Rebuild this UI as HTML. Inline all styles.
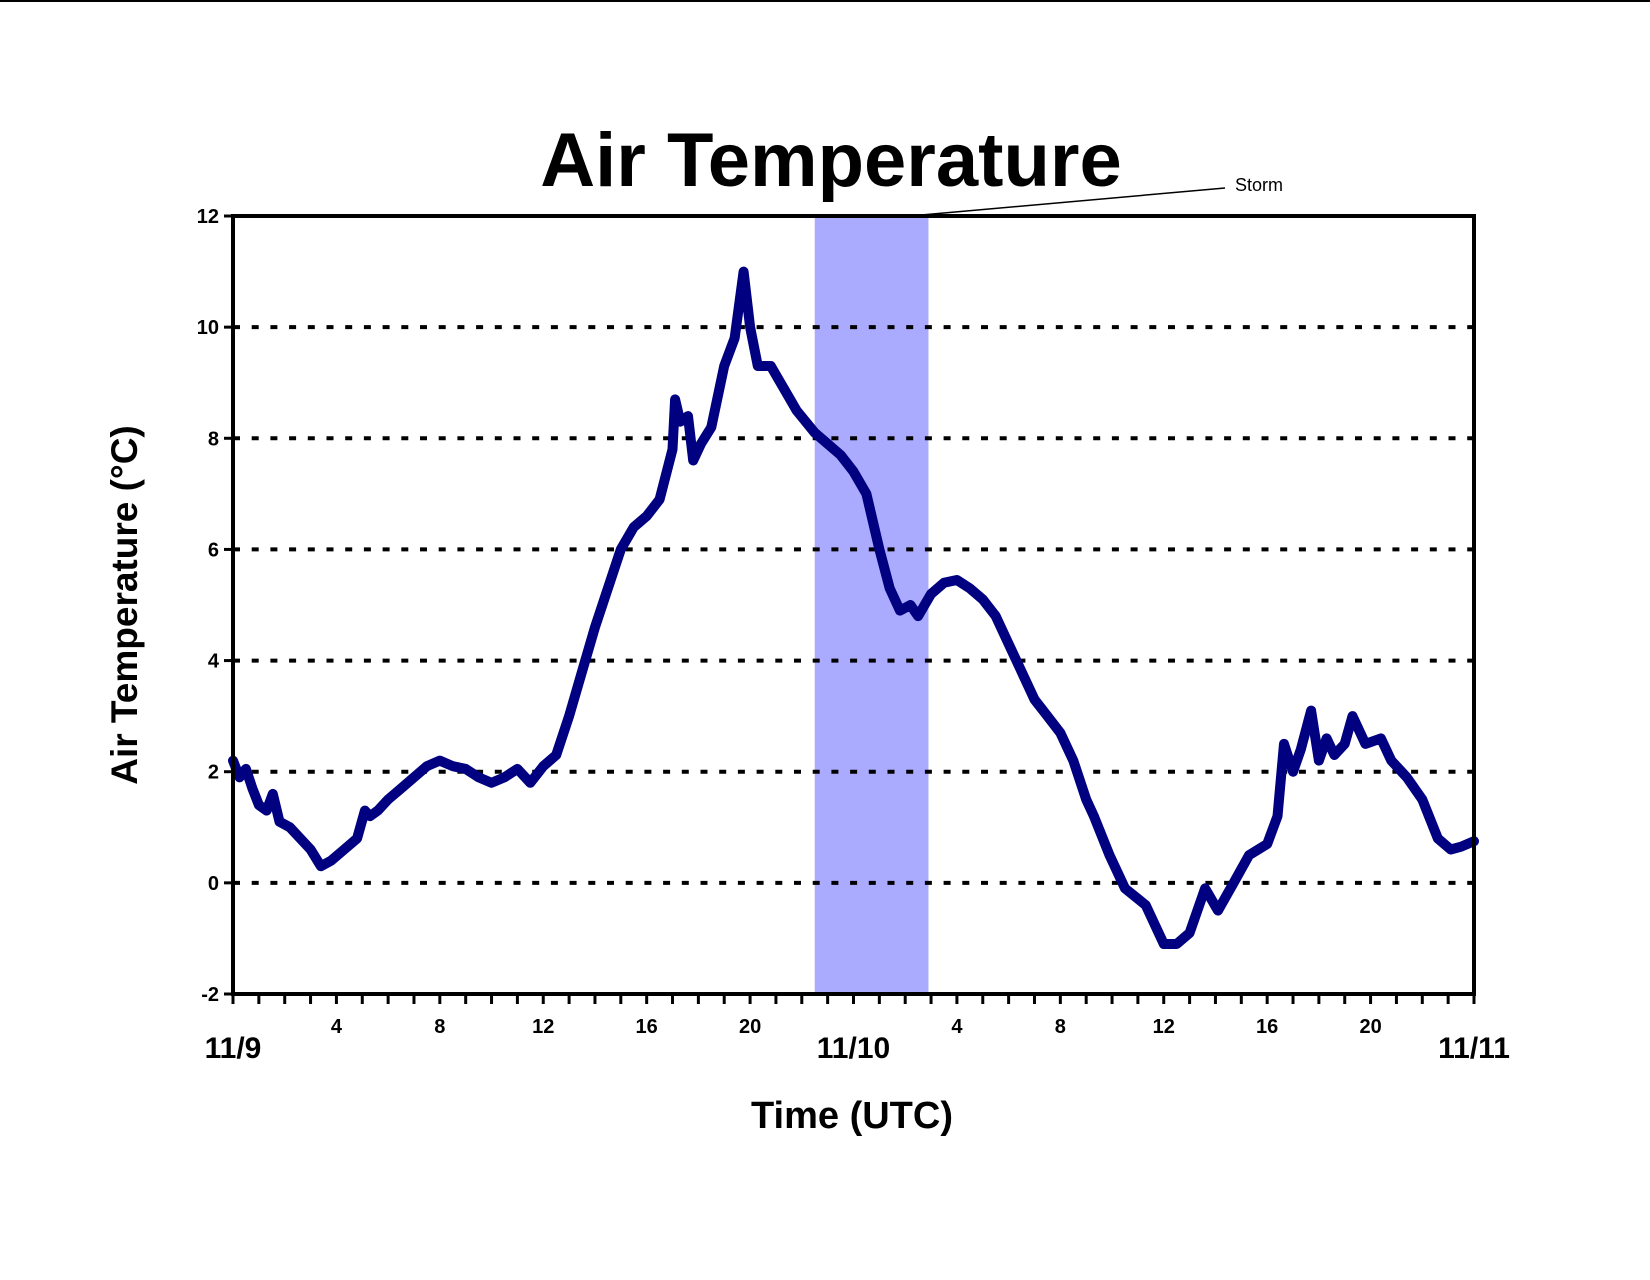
<!DOCTYPE html>
<html><head><meta charset="utf-8"><style>
body{margin:0;background:#fff;}
svg text{font-family:"Liberation Sans",Arial,sans-serif;font-weight:bold;fill:#000;}
</style></head><body>
<svg width="1650" height="1275" viewBox="0 0 1650 1275" xmlns="http://www.w3.org/2000/svg">
<line x1="0" y1="1" x2="1650" y2="1" stroke="#000" stroke-width="2"/>
<text x="831" y="186" font-size="76" text-anchor="middle">Air Temperature</text>
<g id="plot"></g>
<text x="1259" y="191" font-size="18" text-anchor="middle" style="font-weight:normal">Storm</text>
<text transform="translate(137,605) rotate(-90)" font-size="37" text-anchor="middle">Air Temperature (°C)</text>
<text x="852" y="1128" font-size="38" text-anchor="middle">Time (UTC)</text>
</svg>
<script>
const hours=[0,0.25,0.5,0.75,1,1.3,1.54,1.8,2.2,2.6,3,3.4,3.8,4.3,4.8,5.1,5.3,5.6,6,6.5,7,7.5,8,8.5,9,9.5,10,10.5,11,11.5,12,12.5,13,13.5,14,14.5,15,15.5,16,16.5,17,17.1,17.3,17.6,17.8,18.1,18.5,19,19.4,19.75,20,20.3,20.8,21.3,21.8,22.5,23,23.5,24,24.5,25,25.4,25.8,26.2,26.5,27,27.5,28,28.5,29,29.5,30,30.5,31,31.5,32,32.5,33,33.3,33.9,34.5,35.3,36,36.5,37,37.6,38.1,38.7,39.3,40,40.4,40.65,41,41.3,41.7,42,42.3,42.6,43,43.3,43.8,44.4,44.8,45.4,46,46.6,47.1,47.5,48];
const temps=[2.2,1.9,2.05,1.7,1.4,1.3,1.6,1.1,1.0,0.8,0.6,0.3,0.4,0.6,0.8,1.3,1.2,1.3,1.5,1.7,1.9,2.1,2.2,2.1,2.05,1.9,1.8,1.9,2.05,1.8,2.1,2.3,3.0,3.8,4.6,5.3,6.0,6.4,6.6,6.9,7.8,8.7,8.3,8.4,7.6,7.9,8.2,9.3,9.8,11.0,10.0,9.3,9.3,8.9,8.5,8.1,7.9,7.7,7.4,7.0,6.0,5.3,4.9,5.0,4.8,5.2,5.4,5.45,5.3,5.1,4.8,4.3,3.8,3.3,3.0,2.7,2.2,1.5,1.2,0.5,-0.1,-0.4,-1.1,-1.1,-0.9,-0.1,-0.5,0.0,0.5,0.7,1.2,2.5,2.0,2.4,3.1,2.2,2.6,2.3,2.5,3.0,2.5,2.6,2.2,1.9,1.5,0.8,0.6,0.65,0.75];
const yTicks=[-2,0,2,4,6,8,10,12];
const hourLabels=[4,8,12,16,20,28,32,36,40,44];
const hourLabelText=["4","8","12","16","20","4","8","12","16","20"];
const dateLabels=[0,24,48];
const dateLabelText=["11/9","11/10","11/11"];
const stormRange=[22.5,26.9];

const L=233,R=1474,T=216,B=994;
const xs=h=>L+(h/48)*(R-L);
const ys=v=>B-(v+2)/14*(B-T);
const NS="http://www.w3.org/2000/svg";
const g=document.getElementById('plot');
function mk(tag,attrs){const e=document.createElementNS(NS,tag);for(const k in attrs)e.setAttribute(k,attrs[k]);g.appendChild(e);return e;}

let band=mk('rect',{x:xs(stormRange[0]),y:T,width:xs(stormRange[1])-xs(stormRange[0]),height:B-T,fill:'#aaaaff'});



yTicks.forEach(v=>{
  if(v>-2&&v<12){
    const gl=mk('line',{x1:L,x2:R,y1:ys(v),y2:ys(v),stroke:'#000','stroke-width':4,'stroke-dasharray':'7 11.7'});
    
    
  }
  const tk=mk('line',{x1:L-9,x2:L,y1:ys(v),y2:ys(v),stroke:'#000','stroke-width':3});
  
  
  const t=mk('text',{x:L-14,y:ys(v)+7,'font-size':20,'text-anchor':'end'});
  t.textContent=v;
  
  
});

for(let h=0;h<=48;h++){
  const tk=mk('line',{x1:xs(h),x2:xs(h),y1:B,y2:B+10,stroke:'#000','stroke-width':3});
  
  
}
hourLabels.forEach((h,i)=>{
  const t=mk('text',{x:xs(h),y:1033,'font-size':20,'text-anchor':'middle'});
  t.textContent=hourLabelText[i];
  
  
});
dateLabels.forEach((h,i)=>{
  const t=mk('text',{x:xs(h),y:1058,'font-size':30,'text-anchor':'middle'});
  t.textContent=dateLabelText[i];
  
  
});

const pts=hours.map((h,i)=>xs(h).toFixed(1)+','+ys(temps[i]).toFixed(1)).join(' ');
const line=mk('polyline',{points:pts,fill:'none',stroke:'#000080','stroke-width':10,'stroke-linejoin':'round','stroke-linecap':'round'});



const frame=mk('rect',{x:L,y:T,width:R-L,height:B-T,fill:'none',stroke:'#000','stroke-width':4});



const sl=mk('line',{x1:910,y1:216,x2:1225,y2:188,stroke:'#000','stroke-width':1.5});


</script>
</body></html>
